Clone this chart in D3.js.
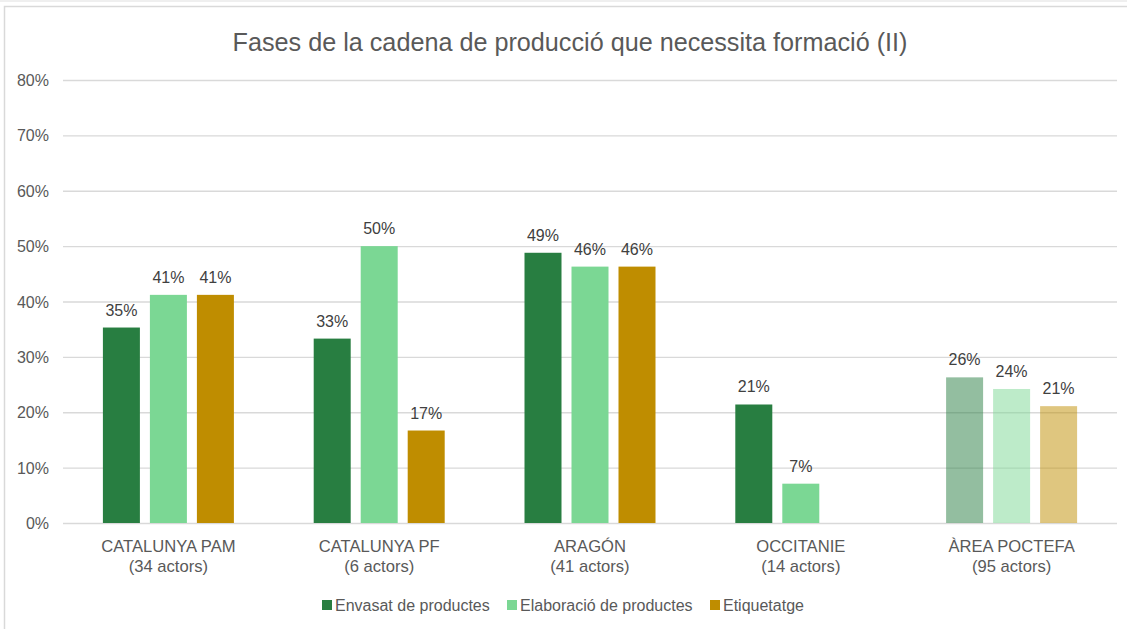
<!DOCTYPE html>
<html><head><meta charset="utf-8">
<script src="https://cdn.jsdelivr.net/npm/d3@7"></script>
<style>body{margin:0;background:#fff;font-family:"Liberation Sans",Arial,sans-serif;}</style>
</head><body><svg id="c" width="1127" height="629"></svg>
<script>
const categories = ["CATALUNYA PAM", "CATALUNYA PF", "ARAGÓN", "OCCITANIE", "ÀREA POCTEFA"];
const subLabels = ["(34 actors)", "(6 actors)", "(41 actors)", "(14 actors)", "(95 actors)"];
const seriesNames = ["Envasat de productes", "Elaboració de productes", "Etiquetatge"];
const envasat = [35.3, 33.3, 48.8, 21.4, 26.3];
const elaboracio = [41.2, 50.0, 46.3, 7.1, 24.2];
const etiquetatge = [41.2, 16.7, 46.3, 0, 21.1];
const yTicks = [0, 10, 20, 30, 40, 50, 60, 70, 80];
const colors = ["#287e41", "#7bd794", "#bf8d00"];
const seriesValues = [envasat, elaboracio, etiquetatge];

(function(){
const svg = d3.select("#c");
// frame
svg.append("rect").attr("x",-2).attr("y",0.5).attr("width",1135).attr("height",1).attr("fill","#e0e0e0");
svg.append("rect").attr("x",4.5).attr("y",6.5).attr("width",1130).attr("height",630).attr("fill","none").attr("stroke","#d9d9d9").attr("stroke-width",1.5);

const pLeft = 63, pRight = 1117, pTop = 80, pBottom = 523;
const y = d3.scaleLinear().domain([0, 80]).range([pBottom, pTop]);
const x0 = d3.scaleBand().domain(categories).range([pLeft, pRight]).padding(0);
const gw = x0.bandwidth();
const span = 131;
const x1 = d3.scaleBand().domain(seriesNames).range([(gw-span)/2, (gw+span)/2]).paddingInner(10/47).paddingOuter(0);

svg.append("text").attr("x", 570).attr("y", 51).attr("text-anchor","middle")
  .attr("font-size", 25.2).attr("fill","#595959").text("Fases de la cadena de producció que necessita formació (II)");

// grid
svg.append("g").selectAll("line").data(yTicks).join("line")
  .attr("x1", pLeft).attr("x2", pRight).attr("y1", d=>y(d)+0.5).attr("y2", d=>y(d)+0.5)
  .attr("stroke", "#d9d9d9").attr("stroke-width", 1.3);
svg.append("g").selectAll("text").data(yTicks).join("text")
  .attr("x", 49).attr("y", d=>y(d)+6).attr("text-anchor","end")
  .attr("font-size", 16).attr("fill","#595959").text(d=>d+"%");

const groups = svg.append("g").selectAll("g").data(categories).join("g")
  .attr("transform", c=>`translate(${x0(c)},0)`);
groups.each(function(c, ci){
  const g = d3.select(this);
  seriesNames.forEach((s, si)=>{
    const v = seriesValues[si][ci];
    if (!v) return;
    g.append("rect").attr("x", x1(s)).attr("width", x1.bandwidth())
      .attr("y", y(v)).attr("height", y(0)-y(v))
      .attr("fill", colors[si]).attr("fill-opacity", ci===4 ? 0.5 : 1);
    g.append("text").attr("x", x1(s)+x1.bandwidth()/2).attr("y", y(v)-12)
      .attr("text-anchor","middle").attr("font-size",16).attr("fill","#404040")
      .text(Math.round(v)+"%");
  });
  g.append("text").attr("x", gw/2).attr("y", 552).attr("text-anchor","middle")
    .attr("font-size",16.6).attr("fill","#595959").text(c);
  g.append("text").attr("x", gw/2).attr("y", 572).attr("text-anchor","middle")
    .attr("font-size",16.6).attr("fill","#595959").text(subLabels[ci]);
});

// legend
const legX = [322, 507, 710];
const leg = svg.append("g").selectAll("g").data(seriesNames).join("g")
  .attr("transform",(d,i)=>`translate(${legX[i]},0)`);
leg.append("rect").attr("x",0).attr("y",600).attr("width",10).attr("height",10).attr("fill",(d,i)=>colors[i]);
leg.append("text").attr("x",13).attr("y",611).attr("font-size",16).attr("fill","#595959").text(d=>d);
})();
</script></body></html>
